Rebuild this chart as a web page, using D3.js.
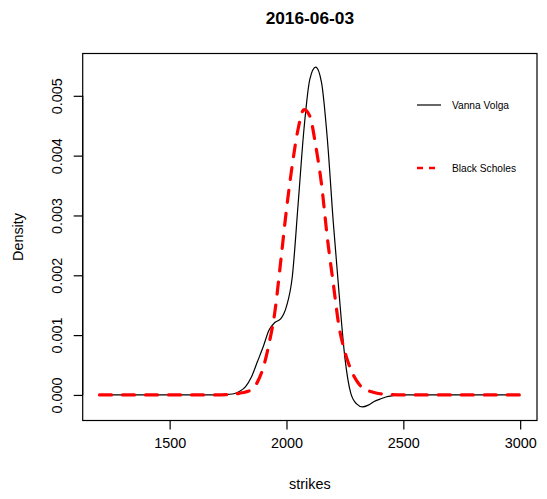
<!DOCTYPE html>
<meta charset="utf-8">
<style>
    body { margin: 0; background: #fff; }
    text { font-family: "Liberation Sans", Arial, Helvetica, sans-serif; fill: #000; }
    .title { font-size: 17.3px; font-weight: bold; }
    .axis-label, .tick-label { font-size: 14.4px; }
    .legend text { font-size: 10.2px; }
</style>
<svg id="svg" width="547" height="499"></svg>
<script src="https://d3js.org/d3.v7.min.js"></script>
<script>

// strike grid and the two densities (x 1e-3)
var strikes = [1200, 1700, 1750, 1775, 1800, 1825, 1850, 1875, 1900, 1925, 1950, 1975,
    2000, 2025, 2050, 2075, 2100, 2125, 2150, 2175, 2200, 2225, 2250, 2275,
    2300, 2325, 2350, 2375, 2400, 2425, 2450, 2475, 2500, 3000];

var vannaVolga = [0, 0, 0.01, 0.02, 0.06, 0.14, 0.3, 0.55, 0.8, 1.08, 1.21, 1.27,
    1.48, 1.98, 3.2, 4.45, 5.28, 5.48, 5.22, 4.27, 2.9, 1.7, 0.62, 0.03,
    -0.15, -0.2, -0.17, -0.11, -0.07, -0.035, -0.015, -0.005, 0, 0];

var blackScholes = [0, 0, 0.005, 0.01, 0.03, 0.05, 0.09, 0.21, 0.45, 0.85, 1.38, 2.22,
    3.1, 3.85, 4.45, 4.77, 4.66, 4.17, 3.52, 2.62, 1.87, 1.14, 0.72, 0.43,
    0.24, 0.12, 0.07, 0.04, 0.02, 0.01, 0.005, 0.002, 0, 0];

var xTicks = [1500, 2000, 2500, 3000];
var yTicks = [0, 0.001, 0.002, 0.003, 0.004, 0.005];
var seriesNames = ["Vanna Volga", "Black Scholes"];

var svg = d3.select("#svg"),
    width = +svg.attr("width"),
    height = +svg.attr("height");

var margin = {top: 53.5, right: 10, bottom: 78.5, left: 82.7};

// R style 4% padding around the data range
function pad(ext) {
  var d = (ext[1] - ext[0]) * 0.04;
  return [ext[0] - d, ext[1] + d];
}

var vv = strikes.map(function(s, i) { return [s, vannaVolga[i] / 1000]; });
var bs = strikes.map(function(s, i) { return [s, blackScholes[i] / 1000]; });

var allY = vv.concat(bs).map(function(d) { return d[1]; });

var x = d3.scaleLinear()
    .domain(pad(d3.extent(strikes)))
    .range([margin.left, width - margin.right]);

var y = d3.scaleLinear()
    .domain(pad(d3.extent(allY)))
    .range([height - margin.bottom, margin.top]);

var line = d3.line()
    .x(function(d) { return x(d[0]); })
    .y(function(d) { return y(d[1]); })
    .curve(d3.curveMonotoneX);

var lineH = 17.3;

// curves
svg.append("path")
    .datum(vv)
    .attr("d", line)
    .attr("fill", "none")
    .attr("stroke", "#000")
    .attr("stroke-width", 1.2);

svg.append("path")
    .datum(bs)
    .attr("d", line)
    .attr("fill", "none")
    .attr("stroke", "#ff0000")
    .attr("stroke-width", 3.2)
    .attr("stroke-dasharray", "12,11")
    .attr("stroke-linecap", "round");

// box
svg.append("rect")
    .attr("x", margin.left)
    .attr("y", margin.top)
    .attr("width", width - margin.right - margin.left)
    .attr("height", height - margin.bottom - margin.top)
    .attr("fill", "none")
    .attr("stroke", "#000")
    .attr("stroke-width", 1.2);

// x axis
var xAxis = d3.axisBottom(x).tickValues(xTicks).tickSizeOuter(0).tickSize(9).tickFormat(d3.format("d"));
var gx = svg.append("g")
    .attr("transform", "translate(0," + (height - margin.bottom) + ")")
    .call(xAxis);
gx.select(".domain")
    .attr("d", "M" + x(xTicks[0]) + ",0H" + x(xTicks[xTicks.length - 1]))
    .attr("stroke-width", 1.2);
gx.selectAll(".tick line").attr("stroke-width", 1.2);
gx.selectAll(".tick text")
    .attr("class", "tick-label")
    .attr("y", 2 * lineH - 9 + 2)
    .attr("dy", null)
    .style("font-size", "14.4px")
    .style("font-family", "'Liberation Sans', Arial, sans-serif");

// y axis
var yAxis = d3.axisLeft(y).tickValues(yTicks).tickSizeOuter(0).tickSize(9).tickFormat(d3.format(".3f"));
var gy = svg.append("g")
    .attr("transform", "translate(" + margin.left + ",0)")
    .call(yAxis);
gy.select(".domain")
    .attr("d", "M0," + y(yTicks[0]) + "V" + y(yTicks[yTicks.length - 1]))
    .attr("stroke-width", 1.2);
gy.selectAll(".tick line").attr("stroke-width", 1.2);
gy.selectAll(".tick text")
    .attr("x", null)
    .attr("dy", null)
    .attr("text-anchor", "middle")
    .attr("transform", "translate(" + (-lineH - 3.5) + ",0) rotate(-90)")
    .style("font-size", "14.4px")
    .style("font-family", "'Liberation Sans', Arial, sans-serif");

// titles
svg.append("text")
    .attr("class", "title")
    .attr("x", (margin.left + width - margin.right) / 2)
    .attr("y", 24)
    .attr("text-anchor", "middle")
    .text("2016-06-03");

svg.append("text")
    .attr("class", "axis-label")
    .attr("x", (margin.left + width - margin.right) / 2)
    .attr("y", height - margin.bottom + 4 * lineH - 0.5)
    .attr("text-anchor", "middle")
    .text("strikes");

svg.append("text")
    .attr("class", "axis-label")
    .attr("transform", "translate(" + (margin.left - 3 * lineH - 8) + "," + ((margin.top + height - margin.bottom) / 2) + ") rotate(-90)")
    .attr("text-anchor", "middle")
    .text("Density");

// legend, no box
var legend = svg.append("g").attr("class", "legend");
var legendY = [105, 168];

legend.append("line")
    .attr("x1", 417).attr("x2", 441)
    .attr("y1", legendY[0]).attr("y2", legendY[0])
    .attr("stroke", "#000").attr("stroke-width", 1.2);

legend.append("line")
    .attr("x1", 417).attr("x2", 441)
    .attr("y1", legendY[1]).attr("y2", legendY[1])
    .attr("stroke", "#ff0000").attr("stroke-width", 2.6)
    .attr("stroke-dasharray", "6,6");

legend.selectAll("text.leg")
    .data(seriesNames)
    .enter().append("text")
    .attr("class", "leg")
    .attr("x", 452)
    .attr("y", function(d, i) { return legendY[i] + 3.7; })
    .text(function(d) { return d; });

</script>
